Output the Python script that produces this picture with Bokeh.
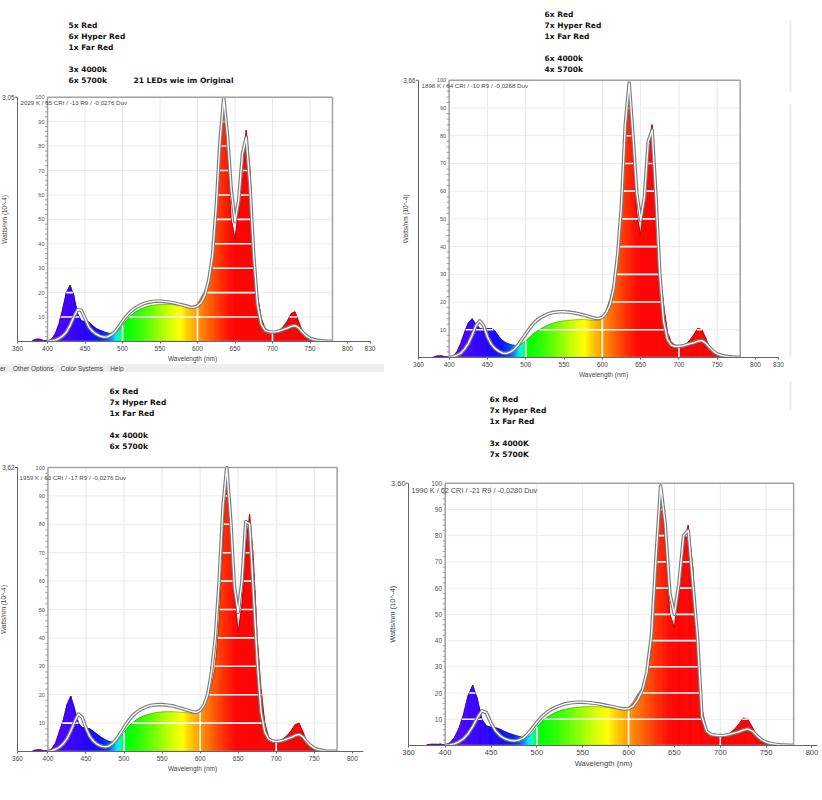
import numpy as np
from bokeh.plotting import figure
from bokeh.models import Div, FixedTicker, Range1d
from bokeh.layouts import row, column
from bokeh.embed import file_html
from bokeh.resources import INLINE
from bokeh.core.properties import value

# ---------------- data ----------------
WAVELENGTH = list(range(380, 781, 5))   # nm, 81 points

# rows: 380-425 / 430-475 / 480-525 / 530-575 / 580-625 / 630-675 / 680-725 / 730-775 / 780
SPECTRUM_1 = [0.4, 1.0, 1.0, 0.4, 0.3, 0.8, 3, 7, 13, 20,
              23, 19, 11.5, 8.5, 8.2, 8, 6.5, 5.3, 4.6, 4,
              3.5, 3.3, 3.5, 4.5, 6.5, 8.5, 10.3, 11.6, 12.6, 13.4,
              14, 14.5, 14.8, 15, 15.1, 15.2, 15.2, 15.1, 15, 14.8,
              14.5, 14.1, 13.8, 14, 15.5, 18, 21, 24, 30, 48,
              76, 100, 76, 50, 42, 55, 75, 86.5, 70, 36,
              19, 9.5, 5.5, 4.2, 3.7, 4, 4.8, 6.3, 8.5, 11.5,
              12.2, 8, 4, 1.8, 0.7, 0.3, 0.1, 0, 0, 0,
              0]
ORIGINAL_1 = [None, None, None, None, 0, 0.2, 0.6, 1.2, 2.2, 3.8,
              6.5, 10, 13, 12.8, 9.5, 6, 4.2, 3, 2.2, 1.8,
              1.9, 2.7, 4, 6, 8.3, 10.3, 12, 13.3, 14.3, 15.1,
              15.7, 16.1, 16.4, 16.5, 16.5, 16.4, 16.2, 16, 15.7, 15.3,
              14.9, 14.5, 14.1, 14, 14.5, 16, 19, 25, 35, 55,
              82, 99.5, 84, 62, 49, 58, 77, 83.5, 63, 35,
              15, 7, 4.6, 4, 3.8, 4, 4.4, 5, 5.5, 6.2,
              6.5, 5.6, 3.8, 2.3, 1.3, 0.8, 0.5, 0.3, 0.2, 0.1,
              0.1]

SPECTRUM_2 = [0.3, 0.6, 0.6, 0.3, 0.2, 0.5, 2, 5, 9, 12.5,
              14, 12, 10.5, 10.2, 10.4, 10.5, 9.5, 7.5, 6, 5.2,
              4.7, 4.4, 4.4, 5, 6, 7.2, 8.5, 9.5, 10.4, 11.1,
              11.8, 12.3, 12.7, 13, 13.2, 13.4, 13.5, 13.6, 13.7, 13.7,
              13.6, 13.5, 13.4, 13.5, 14.5, 17, 21, 27, 38, 55,
              82, 99, 73, 52, 44, 57, 77, 84, 60, 32,
              19, 9, 5.5, 4.5, 4, 4.3, 5, 6.5, 8.5, 10.6,
              10, 7, 3.6, 1.6, 0.6, 0.2, 0, 0, 0, 0,
              0]
ORIGINAL_2 = [None, None, None, None, 0, 0.3, 0.8, 1.5, 3, 5,
              8, 11.5, 13.2, 11.5, 7.5, 4.8, 3.2, 2.2, 1.6, 1.5,
              2, 3, 4.5, 6.5, 8.5, 10.5, 12.2, 13.5, 14.5, 15.2,
              15.8, 16.2, 16.4, 16.5, 16.5, 16.4, 16.2, 16, 15.7, 15.3,
              15, 14.6, 14.2, 14, 14.5, 16, 19, 25, 37, 55,
              84, 99, 80, 59, 49.5, 58, 78, 82, 58, 30,
              13, 6.5, 4.5, 4, 4, 4.2, 4.6, 5, 5.4, 5.9,
              6.1, 5.2, 3.6, 2.2, 1.3, 0.8, 0.5, 0.3, 0.2, 0.1,
              0.1]

SPECTRUM_3 = [0.3, 0.6, 0.6, 0.3, 0.3, 1, 3, 7, 11, 16.5,
              19.5, 15, 10, 8.5, 8.2, 8, 7, 6, 5, 4.2,
              3.6, 3.3, 3.5, 4.8, 6.8, 8.5, 9.8, 10.9, 11.8, 12.4,
              12.9, 13.3, 13.6, 13.8, 13.9, 14, 14, 14, 13.9, 13.8,
              13.7, 13.6, 13.4, 13.5, 14.5, 16.5, 19, 23, 30, 46,
              74, 100, 80, 55, 42, 52, 72, 83.5, 68, 40,
              22, 10, 5, 4, 3.5, 3.8, 4.6, 5.8, 7.5, 9.5,
              10, 7, 3.5, 1.5, 0.5, 0.2, 0, 0, 0, 0,
              0]
ORIGINAL_3 = [None, None, None, None, 0, 0.3, 0.8, 1.5, 2.7, 4.5,
              7.2, 10.5, 13.2, 12, 8.3, 5.3, 3.6, 2.5, 1.9, 1.6,
              1.9, 2.8, 4.3, 6.3, 8.5, 10.5, 12.2, 13.5, 14.5, 15.2,
              15.8, 16.2, 16.4, 16.5, 16.5, 16.4, 16.2, 16, 15.6, 15.2,
              14.8, 14.4, 14, 13.8, 14.5, 16.3, 20, 28, 40, 60,
              86, 100, 82, 58, 49, 60, 81, 80, 56, 32,
              14, 6.8, 4.4, 3.7, 3.5, 3.7, 4, 4.5, 5, 5.7,
              6, 5.2, 3.5, 2.1, 1.2, 0.7, 0.4, 0.2, 0.1, 0.1,
              0]

SPECTRUM_4 = [0.3, 0.5, 0.5, 0.4, 0.3, 1, 3, 6.5, 12, 19,
              23, 18, 10, 7.5, 7, 6.8, 6.2, 5.3, 4.6, 4,
              3.5, 3.1, 3.2, 4.6, 7, 9, 10.5, 11.6, 12.5, 13.2,
              13.7, 14.1, 14.4, 14.6, 14.7, 14.8, 14.8, 14.8, 14.7, 14.6,
              14.4, 14.2, 14, 14, 14.5, 16.5, 19.5, 22, 26, 37,
              67, 98, 76, 50, 45, 60, 77, 84, 68, 40,
              14, 6, 4.5, 3.8, 3.5, 3.8, 4.6, 6, 8, 10.5,
              10, 7, 3.6, 1.6, 0.6, 0.2, 0, 0, 0, 0,
              0]
ORIGINAL_4 = [None, None, None, None, 0, 0.2, 0.6, 1.4, 2.6, 4.5,
              7.2, 10.5, 13.2, 12.5, 8.5, 5.5, 3.7, 2.6, 2, 1.8,
              2, 2.8, 4.4, 6.5, 8.8, 10.8, 12.4, 13.6, 14.5, 15.2,
              15.8, 16.2, 16.4, 16.5, 16.5, 16.4, 16.2, 16, 15.7, 15.3,
              15, 14.6, 14.2, 14, 14, 15, 17.5, 21, 28, 42,
              72, 99, 84, 58, 50, 62, 80, 82, 62, 42,
              11, 5.5, 4.2, 3.9, 3.8, 3.9, 4.2, 4.7, 5.2, 5.9,
              6.3, 5.5, 3.7, 2.2, 1.3, 0.8, 0.5, 0.3, 0.2, 0.1,
              0.1]

LEGEND_1 = ["5x Red", "6x Hyper Red", "1x Far Red", "", "3x 4000k", "6x 5700k"]
NOTE_1 = "21 LEDs wie im Original"
LEGEND_2 = ["6x Red", "7x Hyper Red", "1x Far Red", "", "6x 4000k", "4x 5700k"]
LEGEND_3 = ["6x Red", "7x Hyper Red", "1x Far Red", "", "4x 4000k", "6x 5700k"]
LEGEND_4 = ["6x Red", "7x Hyper Red", "1x Far Red", "", "3x 4000K", "7x 5700K"]
STATS = ["2029 K / 65 CRI / -13 R9 / -0,0276 Duv",
         "1898 K / 64 CRI / -10 R9 / -0,0268 Duv",
         "1959 K / 63 CRI / -17 R9 / -0,0276 Duv",
         "1990 K / 62 CRI / -21 R9 / -0,0280 Duv"]
TOP_LABELS = ["3,05", "3,66", "3,62", "3,60"]
X_TICKS_WIDE = [360, 400, 450, 500, 550, 600, 650, 700, 750, 800, 830]
X_TICKS = [360, 400, 450, 500, 550, 600, 650, 700, 750, 800]
Y_TICKS = [0, 10, 20, 30, 40, 50, 60, 70, 80, 90, 100]
GRID_X = [450, 500, 550, 600, 650, 700, 750]
WHITE_X = [500, 600, 700]
FRAME_X = (400, 780)
FRAME_Y = (0, 100)
X_TITLE = "Wavelength (nm)"
Y_TITLE = "Watts/nm (10^-4)"
MENU = "er&nbsp;&nbsp;&nbsp;&nbsp;Other Options&nbsp;&nbsp;&nbsp;&nbsp;Color Systems&nbsp;&nbsp;&nbsp;&nbsp;Help"

# ---------------- styling ----------------
COLOR_STOPS = [(380, "#8000c8"), (410, "#5200ff"), (430, "#3a00ff"), (450, "#2200ff"),
               (470, "#0812ff"), (480, "#0040ff"), (486, "#0090ff"), (491, "#00e0ff"),
               (495, "#00ffc0"), (499, "#00ff50"), (505, "#00ff00"), (520, "#24ff00"),
               (540, "#70ff00"), (560, "#c4ff00"), (572, "#f0ff00"), (578, "#ffff00"),
               (586, "#ffd000"), (600, "#ff9a00"), (615, "#ff6200"), (630, "#ff3000"),
               (645, "#ff0800"), (650, "#ff0000"), (780, "#f60000")]
FONT = "Liberation Sans"


def _rgb(h):
    return np.array([int(h[i:i + 2], 16) for i in (1, 3, 5)], dtype=float)


def wl_color(w, f=1.0):
    c = _rgb(COLOR_STOPS[-1][1])
    for (wa, ca), (wb, cb) in zip(COLOR_STOPS[:-1], COLOR_STOPS[1:]):
        if wa <= w <= wb:
            t = (w - wa) / (wb - wa)
            c = _rgb(ca) * (1 - t) + _rgb(cb) * t
            break
    c = c * f
    return "#%02x%02x%02x" % tuple(int(round(v)) for v in c)


def above_intervals(xs, ys, level):
    out, start = [], None
    for i in range(len(xs) - 1):
        xa, xb, ya, yb = xs[i], xs[i + 1], ys[i], ys[i + 1]
        a, b = ya > level, yb > level
        if a and start is None:
            start = xa
        if a and not b:
            out.append((start, xa + (level - ya) / (yb - ya) * (xb - xa)))
            start = None
        elif (not a) and b:
            start = xa + (level - ya) / (yb - ya) * (xb - xa)
    if start is not None:
        out.append((start, xs[-1]))
    return out


CHARTS = [
    dict(spec=SPECTRUM_1, orig=ORIGINAL_1, legend=LEGEND_1, note=NOTE_1, stats=STATS[0], top=TOP_LABELS[0],
         ticks=X_TICKS_WIDE, bound=830, width=384, frame_h=342, border=22, ax_px=17, sx=0.75, sy=2.45,
         block=(51, 317), note_pos=(116, 262), stats_pos=(3, 240), title_dx=-13, fs=1.0,
         title_color="#444444", remnants=[]),
    dict(spec=SPECTRUM_2, orig=ORIGINAL_2, legend=LEGEND_2, note=None, stats=STATS[1], top=TOP_LABELS[1],
         ticks=X_TICKS_WIDE, bound=830, width=438, frame_h=358, border=22, ax_px=34, sx=0.766, sy=2.78,
         block=(126, 344), note_pos=None, stats_pos=(3, 273), title_dx=-13, fs=1.0,
         title_color="#444444", remnants=[(372, 338, 266), (372, 254, 0)]),
    dict(spec=SPECTRUM_3, orig=ORIGINAL_3, legend=LEGEND_3, note=None, stats=STATS[2], top=TOP_LABELS[2],
         ticks=X_TICKS, bound=815, width=384, frame_h=379, border=24, ax_px=17, sx=0.761, sy=2.84,
         block=(92, 360), note_pos=None, stats_pos=(2, 274), title_dx=-14, fs=1.0,
         title_color="#444444", remnants=[]),
    dict(spec=SPECTRUM_4, orig=ORIGINAL_4, legend=LEGEND_4, note=None, stats=STATS[3], top=TOP_LABELS[3],
         ticks=X_TICKS, bound=806, width=438, frame_h=366, border=24, ax_px=24, sx=0.917, sy=2.63,
         block=(81, 347), note_pos=None, stats_pos=(3, 256), title_dx=-16, fs=1.17,
         title_color="#34486a", remnants=[(382, 366, 336)]),
]


def make_chart(c):
    sx, sy, fs = c["sx"], c["sy"], c["fs"]
    x_start = 360 - c["ax_px"] / sx
    x_end = x_start + c["width"] / sx
    y_end = c["frame_h"] / sy
    p = figure(width=c["width"], height=c["frame_h"] + c["border"],
               x_range=Range1d(x_start, x_end), y_range=Range1d(0, y_end),
               output_backend="svg", toolbar_location=None, tools="",
               y_axis_location=None, min_border=0, min_border_bottom=c["border"])
    p.outline_line_color = None
    p.xgrid.visible = False
    p.ygrid.visible = False
    p.background_fill_color = "white"
    p.border_fill_color = "white"

    wl = np.array(WAVELENGTH, dtype=float)
    sp = np.array(c["spec"], dtype=float)
    orig = np.array(c["orig"], dtype=float)

    # faint remnant separator lines of the original screenshot
    for rx, ry0, ry1 in c["remnants"]:
        p.segment(x0=[360 + rx / sx], x1=[360 + rx / sx], y0=[ry0 / sy], y1=[ry1 / sy],
                  line_color="#ececec", line_width=2)

    # light grid inside the inner frame
    p.segment(x0=[FRAME_X[0]] * 9, x1=[FRAME_X[1]] * 9, y0=Y_TICKS[1:-1], y1=Y_TICKS[1:-1],
              line_color="#ebebeb", line_width=1)
    p.segment(x0=GRID_X, x1=GRID_X, y0=[FRAME_Y[0]] * len(GRID_X), y1=[FRAME_Y[1]] * len(GRID_X),
              line_color="#e8e8e8", line_width=1)

    # spectrum fill, coloured by wavelength (1 nm slices of the piecewise-linear outline)
    xs, ys, cols, ex0, ex1, ey0, ey1, ecol = [], [], [], [], [], [], [], []
    for i in range(len(wl) - 1):
        for k in range(5):
            a = wl[i] + (wl[i + 1] - wl[i]) * k / 5
            b = wl[i] + (wl[i + 1] - wl[i]) * (k + 1) / 5
            ya = sp[i] + (sp[i + 1] - sp[i]) * k / 5
            yb = sp[i] + (sp[i + 1] - sp[i]) * (k + 1) / 5
            if ya <= 0 and yb <= 0:
                continue
            xs.append([a, a, b, b])
            ys.append([0, ya, yb, 0])
            cols.append(wl_color((a + b) / 2))
            ex0.append(a); ex1.append(b); ey0.append(ya); ey1.append(yb)
            ecol.append(wl_color((a + b) / 2, 0.55))
    p.patches(xs, ys, fill_color=cols, line_color=cols, line_width=0.6)
    p.segment(x0=ex0, x1=ex1, y0=ey0, y1=ey1, line_color=ecol, line_width=0.7, line_alpha=0.8)

    # white grid lines across the filled area
    sx0, sx1, sy0 = [], [], []
    for lev in Y_TICKS[1:-1]:
        for a, b in above_intervals(wl, sp, lev):
            a = max(a, FRAME_X[0])
            if b > a:
                sx0.append(a); sx1.append(b); sy0.append(lev)
    p.segment(x0=sx0, x1=sx1, y0=sy0, y1=sy0, line_color="white", line_width=1.6)
    vtop = [float(np.interp(x, wl, sp)) for x in WHITE_X]
    p.segment(x0=WHITE_X, x1=WHITE_X, y0=[0] * len(WHITE_X), y1=vtop, line_color="white", line_width=1.6)

    # original spectrum: grey double line
    p.line(wl, orig, line_color="#7b7b7b", line_width=3.6, line_join="round")
    p.line(wl, orig, line_color="white", line_width=1.3, line_join="round")

    # inner frame
    p.quad(left=[FRAME_X[0]], right=[FRAME_X[1]], bottom=[FRAME_Y[0]], top=[FRAME_Y[1]],
           fill_alpha=0, line_color="#a2a2a2", line_width=1.5)
    minor = [v for v in range(2, 100, 2) if v % 10]
    p.segment(x0=[FRAME_X[0] - 2.5 / sx] * len(minor), x1=[FRAME_X[0]] * len(minor), y0=minor, y1=minor,
              line_color="#8a8a8a", line_width=0.8)
    p.text(x=[FRAME_X[0]] * len(Y_TICKS), y=Y_TICKS, text=[str(v) for v in Y_TICKS], x_offset=-3,
           text_align="right", text_baseline="middle", text_font=value(FONT),
           text_font_size="%.1fpx" % (5.6 * fs), text_color="#555555")

    # outer left axis (0 .. top value)
    p.segment(x0=[360], x1=[360], y0=[0], y1=[100], line_color="#666666", line_width=1)
    p.segment(x0=[360 - 2.5 / sx], x1=[360], y0=[100], y1=[100], line_color="#666666", line_width=1)
    p.text(x=[360], y=[100], text=[c["top"]], x_offset=-3, text_align="right", text_baseline="middle",
           text_font=value(FONT), text_font_size="%.1fpx" % (6.3 * fs), text_color="#444444")
    p.text(x=[360 + c["title_dx"] / sx], y=[50], text=[Y_TITLE], angle=np.pi / 2,
           text_align="center", text_baseline="middle", text_font=value(FONT),
           text_font_size="%.1fpx" % (6.4 * fs), text_color=c["title_color"])

    # stats line
    dx, dy = c["stats_pos"]
    p.text(x=[360 + dx / sx], y=[dy / sy], text=[c["stats"]], text_align="left", text_baseline="middle",
           text_font=value(FONT), text_font_size="%.1fpx" % (6.2 * fs), text_color="#4a4a4a")

    # LED configuration block
    bx, by = c["block"]
    lines = list(c["legend"])
    p.text(x=[360 + bx / sx] * len(lines), y=[(by - 11 * i) / sy for i in range(len(lines))], text=lines,
           text_align="left", text_baseline="middle", text_font=value("DejaVu Sans"),
           text_font_style="bold", text_font_size="7.5px", text_color="#111111")
    if c["note"]:
        nx, ny = c["note_pos"]
        p.text(x=[360 + nx / sx], y=[ny / sy], text=[c["note"]], text_align="left", text_baseline="middle",
               text_font=value("DejaVu Sans"), text_font_style="bold", text_font_size="7.5px",
               text_color="#111111")

    # bottom axis
    ax = p.xaxis[0]
    ax.ticker = FixedTicker(ticks=c["ticks"])
    ax.bounds = (360, c["bound"])
    ax.axis_line_color = "#666666"
    ax.major_tick_line_color = "#666666"
    ax.major_tick_out = 2
    ax.major_tick_in = 0
    ax.minor_tick_out = 0
    ax.minor_tick_in = 0
    ax.major_label_standoff = 2
    ax.major_label_text_font = FONT
    ax.major_label_text_font_size = "%.1fpx" % (6.5 * fs)
    ax.major_label_text_color = "#444444"
    ax.axis_label = X_TITLE
    ax.axis_label_standoff = 1
    ax.axis_label_text_font = FONT
    ax.axis_label_text_font_style = "normal"
    ax.axis_label_text_font_size = "%.1fpx" % (6.5 * fs)
    ax.axis_label_text_color = "#444444"
    return p


figs = [make_chart(c) for c in CHARTS]
menu = Div(text=MENU, width=384, height=8, margin=0,
           styles={"background-color": "#efefef", "font-size": "6.5px", "font-family": FONT,
                   "color": "#444444", "line-height": "9px", "overflow": "hidden", "white-space": "nowrap"})

layout = row(column(figs[0], menu, figs[2], spacing=0), column(figs[1], figs[3], spacing=0), spacing=0)

open("out.html", "w").write(file_html(layout, INLINE))
